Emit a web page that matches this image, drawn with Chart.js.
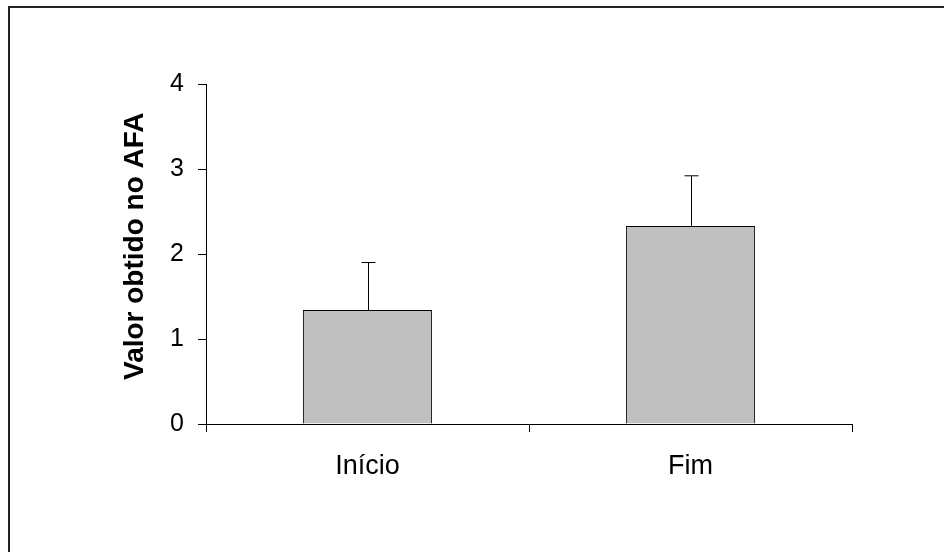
<!DOCTYPE html>
<html>
<head>
<meta charset="utf-8">
<script src="https://cdn.jsdelivr.net/npm/chart.js@4"></script>
<style>
  html, body { margin: 0; padding: 0; background: #fff; }
  #wrap { width: 944px; height: 552px; position: relative; }
</style>
</head>
<body>
<div id="wrap"><canvas id="chart1" width="944" height="552"></canvas></div>
<script>
const categories = ['Início', 'Fim'];
const values = [1.34, 2.33];
const errors = [0.56, 0.59];
const yTicks = [0, 1, 2, 3, 4];

// outer frame like the original picture
const framePlugin = {
  id: 'frame',
  beforeDraw(chart) {
    const c = chart.ctx;
    c.save();
    c.fillStyle = '#fff';
    c.fillRect(0, 0, chart.width, chart.height);
    c.strokeStyle = '#222';
    c.lineWidth = 2;
    c.strokeRect(9, 7, 1000, 1000);
    c.restore();
  }
};

// upward-only error bars with a small cap
const errorBars = {
  id: 'errorBars',
  afterDatasetsDraw(chart) {
    const c = chart.ctx;
    const meta = chart.getDatasetMeta(0);
    const y = chart.scales.y;
    c.save();
    c.strokeStyle = '#000';
    c.lineWidth = 1;
    meta.data.forEach((bar, i) => {
      const x = Math.round(bar.x) + 0.5;
      const top = y.getPixelForValue(values[i] + errors[i]);
      c.beginPath();
      c.moveTo(x, bar.y);
      c.lineTo(x, top);
      c.moveTo(x - 7, top);
      c.lineTo(x + 7, top);
      c.stroke();
    });
    c.restore();
  }
};

const ctx = document.getElementById('chart1');
new Chart(ctx, {
  type: 'bar',
  data: {
    labels: categories,
    datasets: [{
      data: values,
      backgroundColor: '#c0c0c0',
      borderColor: '#000',
      borderWidth: 1,
      barPercentage: 0.4,
      categoryPercentage: 1
    }]
  },
  options: {
    responsive: false,
    animation: false,
    events: [],
    layout: { padding: { left: 106, right: 92, top: 84, bottom: 48 } },
    plugins: { legend: { display: false }, tooltip: { enabled: false } },
    scales: {
      x: {
        grid: { drawOnChartArea: false, color: '#000', tickLength: 8, offset: true },
        border: { color: '#000', width: 1 },
        ticks: { color: '#000', padding: 18, font: { family: 'Liberation Sans', size: 27 } },
        afterFit(s) { s.height = 80; }
      },
      y: {
        min: 0,
        max: 4,
        afterBuildTicks(s) { s.ticks = yTicks.map(v => ({ value: v })); },
        grid: { drawOnChartArea: false, color: '#000', tickLength: 8 },
        border: { color: '#000', width: 1 },
        ticks: { color: '#000', padding: 14, font: { family: 'Liberation Sans', size: 25 } },
        title: {
          display: true,
          // leading spaces nudge the title up a little, as in the original
          text: '  Valor obtido no AFA',
          color: '#000',
          padding: { top: 12, bottom: 0 },
          font: { family: 'Liberation Sans', size: 28, weight: 'bold' }
        },
        afterFit(s) { s.width = 100; }
      }
    }
  },
  plugins: [framePlugin, errorBars]
});
</script>
</body>
</html>
